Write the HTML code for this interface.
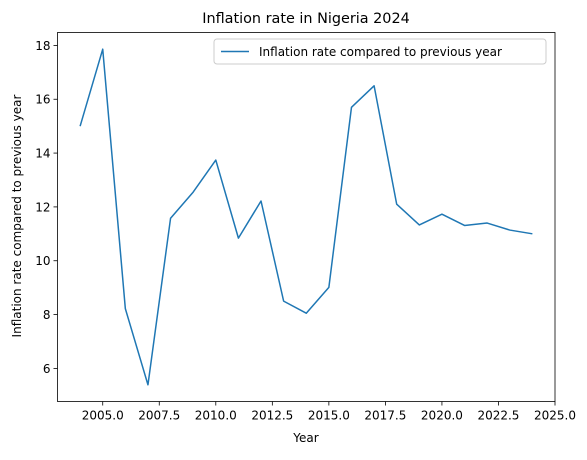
<!DOCTYPE html>
<html><head><meta charset="utf-8"><style>
body{margin:0;background:#fff}
svg{font-family:"DejaVu Sans","Liberation Sans",sans-serif}
</style></head><body>
<svg id="chart" width="587" height="455"></svg>
<script>
const years=[2004,2005,2006,2007,2008,2009,2010,2011,2012,2013,2014,2015,2016,2017,2018,2019,2020,2021,2022,2023,2024];
const rates=[15.0,17.86,8.22,5.39,11.58,12.55,13.74,10.84,12.22,8.5,8.05,9.01,15.7,16.5,12.1,11.33,11.73,11.31,11.4,11.14,11.0];
const xTicks=[2005,2007.5,2010,2012.5,2015,2017.5,2020,2022.5,2025];
const yTicks=[6,8,10,12,14,16,18];
const L=57.5,R=555,T=32.5,B=401.5,x0=2003,x1=2025,y0=4.77,y1=18.48;
const sx=v=>L+(v-x0)/(x1-x0)*(R-L), sy=v=>B-(v-y0)/(y1-y0)*(B-T);
const NS="http://www.w3.org/2000/svg", svg=document.getElementById('chart');
function mk(t,a,p){const e=document.createElementNS(NS,t);for(const k in a)e.setAttribute(k,a[k]);(p||svg).appendChild(e);return e;}
mk('rect',{x:0,y:0,width:587,height:455,fill:'#fff'});
const xt=mk('g',{});
xTicks.forEach(v=>{mk('line',{x1:sx(v),x2:sx(v),y1:B,y2:B+4,stroke:'#000','stroke-width':0.8},xt);
 const t=mk('text',{x:sx(v),y:B+18,'text-anchor':'middle','font-size':12},xt);t.textContent=v.toFixed(1);});
const yt=mk('g',{});
yTicks.forEach(v=>{mk('line',{x1:L-4,x2:L,y1:sy(v),y2:sy(v),stroke:'#000','stroke-width':0.8},yt);
 const t=mk('text',{x:L-7,y:sy(v)+4.5,'text-anchor':'end','font-size':12},yt);t.textContent=v;});
const line=mk('polyline',{points:years.map((y,i)=>sx(y)+','+sy(rates[i])).join(' '),fill:'none',stroke:'#1f77b4','stroke-width':1.5,'stroke-linejoin':'round'});


const fr=mk('rect',{x:L,y:T,width:R-L,height:B-T,fill:'none',stroke:'#000','stroke-width':0.8});


</script>
<svg style="position:absolute;left:0;top:0" width="587" height="455">
<text x="306" y="23" text-anchor="middle" font-size="14.4">Inflation rate in Nigeria 2024</text>
<text x="306" y="442" text-anchor="middle" font-size="12">Year</text>
<text transform="translate(21,216) rotate(-90)" text-anchor="middle" font-size="12">Inflation rate compared to previous year</text>
<g>
<rect x="214" y="39" width="332" height="25" rx="3" fill="#fff" fill-opacity="0.8" stroke="#ccc"/>
<line x1="221" x2="249" y1="51.5" y2="51.5" stroke="#1f77b4" stroke-width="1.5"/>
<text x="259" y="56" font-size="12">Inflation rate compared to previous year</text>
</g>
</svg>
</body></html>
